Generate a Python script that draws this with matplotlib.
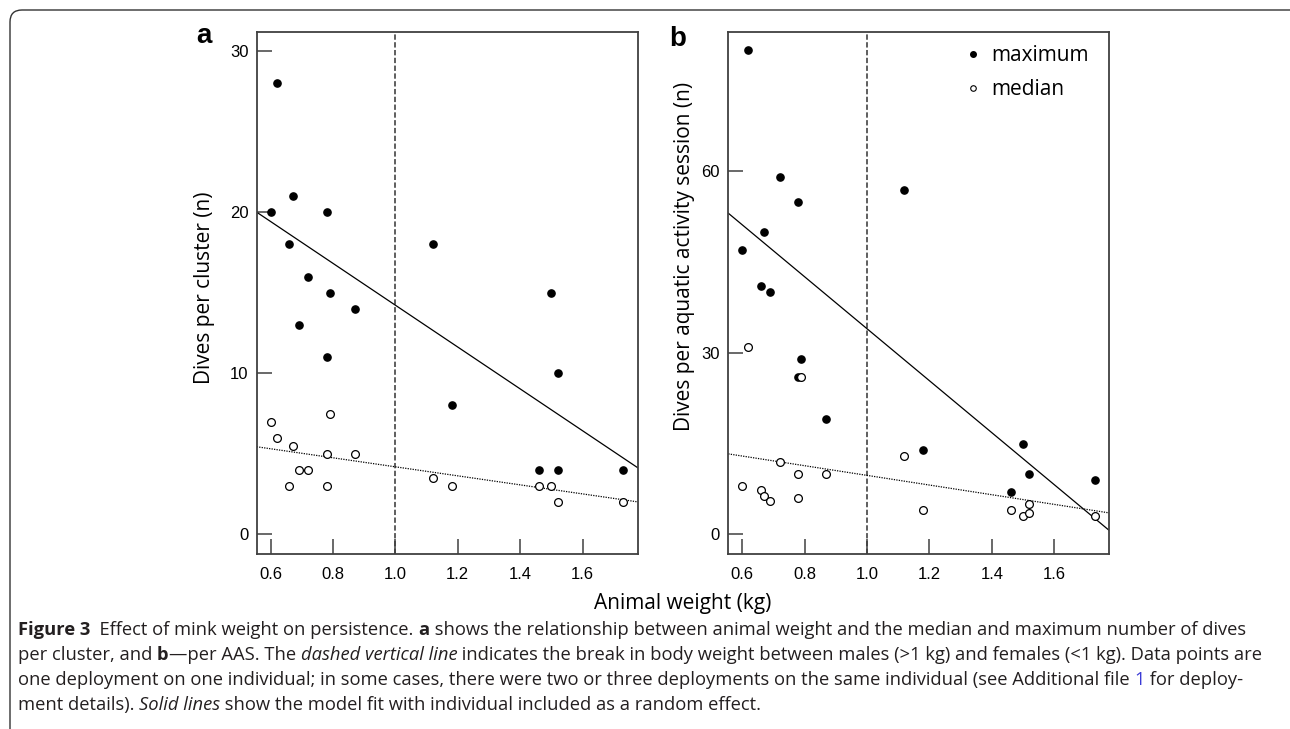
import numpy as np
import matplotlib
matplotlib.use("Agg")
import matplotlib.pyplot as plt
from matplotlib.lines import Line2D
from matplotlib.patches import FancyBboxPatch

# panel a - dives per cluster
a_max_weight = [0.60, 0.62, 0.66, 0.67, 0.69, 0.72, 0.78, 0.78, 0.79, 0.87, 1.12, 1.18, 1.46, 1.50, 1.52, 1.52, 1.73]
a_max_dives = [20, 28, 18, 21, 13, 16, 20, 11, 15, 14, 18, 8, 4, 15, 10, 4, 4]
a_med_weight = [0.60, 0.62, 0.66, 0.67, 0.69, 0.72, 0.78, 0.78, 0.79, 0.87, 1.12, 1.18, 1.46, 1.50, 1.52, 1.73]
a_med_dives = [7, 6, 3, 5.5, 4, 4, 5, 3, 7.5, 5, 3.5, 3, 3, 3, 2, 2]

# panel b - dives per aquatic activity session
b_max_weight = [0.60, 0.62, 0.66, 0.67, 0.69, 0.72, 0.78, 0.78, 0.79, 0.87, 1.12, 1.18, 1.46, 1.50, 1.52, 1.73]
b_max_dives = [47, 80, 41, 50, 40, 59, 55, 26, 29, 19, 57, 14, 7, 15, 10, 9]
b_med_weight = [0.60, 0.62, 0.66, 0.67, 0.69, 0.72, 0.78, 0.78, 0.79, 0.87, 1.12, 1.18, 1.46, 1.50, 1.52, 1.52, 1.73]
b_med_dives = [8, 31, 7.3, 6.3, 5.5, 12, 10, 6, 26, 10, 13, 4, 4, 3, 5, 3.5, 3]

# model fits (intercept, slope)
fit_a_max = (27.2, -12.98)
fit_a_med = (6.99, -2.80)
fit_b_max = (77.0, -43.0)
fit_b_med = (17.75, -8.0)

x_ticks = [0.6, 0.8, 1.0, 1.2, 1.4, 1.6]
a_yticks = [0, 10, 20, 30]
b_yticks = [0, 30, 60]

W, H = 1290, 729
fig = plt.figure(figsize=(W / 100, H / 100), dpi=100)

label_font = "Open Sans"
tick_font = "Liberation Sans"
spine_col = "#404040"

ax_a = fig.add_axes([256.7 / W, 1 - 554.3 / H, 381 / W, 522.6 / H])
ax_b = fig.add_axes([728.3 / W, 1 - 554.3 / H, 380.7 / W, 522.6 / H])


def draw_panel(ax, wmax, dmax, wmed, dmed, fmax, fmed, xlim, ylim, yticks):
    ax.set_xlim(*xlim)
    ax.set_ylim(*ylim)
    xx = np.array(xlim)
    ax.plot(xx, fmax[0] + fmax[1] * xx, color="black", lw=0.9, zorder=2)
    ax.plot(xx, fmed[0] + fmed[1] * xx, color="black", lw=0.9, ls=(0, (1, 1)), zorder=2)
    ax.axvline(1.0, color="#333333", lw=1.1, ls=(0, (3.5, 1.6)), zorder=1)
    ax.plot(wmax, dmax, "o", color="black", ms=5.2, ls="", zorder=3)
    ax.plot(wmed, dmed, "o", mfc="white", mec="black", mew=0.9, ms=5.6, ls="", zorder=4)
    ax.set_xticks(x_ticks)
    ax.set_xticklabels(["%.1f" % v for v in x_ticks])
    ax.set_yticks(yticks)
    ax.tick_params(direction="in", length=11, width=1.1, color=spine_col,
                   labelsize=12, pad=6)
    ax.tick_params(axis="x", pad=9)
    for lab in ax.get_xticklabels() + ax.get_yticklabels():
        lab.set_fontfamily(tick_font)
    for sp in ax.spines.values():
        sp.set_color(spine_col)
        sp.set_linewidth(1.3)


draw_panel(ax_a, a_max_weight, a_max_dives, a_med_weight, a_med_dives,
           fit_a_max, fit_a_med, (0.555, 1.777), (-1.24, 31.2), a_yticks)
draw_panel(ax_b, b_max_weight, b_max_dives, b_med_weight, b_med_dives,
           fit_b_max, fit_b_med, (0.556, 1.775), (-3.3, 83.1), b_yticks)

ax_a.set_ylabel("Dives per cluster (n)", fontsize=15, family=label_font, va="center")
ax_a.yaxis.set_label_coords(-0.136, 0.51)
ax_b.set_ylabel("Dives per aquatic activity session (n)", fontsize=15, family=label_font, va="center")
ax_b.yaxis.set_label_coords(-0.114, 0.57)

fig.text(683 / W, 1 - 604 / H, "Animal weight (kg)", ha="center", va="center",
         fontsize=15, family=label_font)

fig.text(203.5 / W, 1 - 43 / H, "a", ha="center", va="baseline", fontsize=20,
         fontweight="bold", family=tick_font)
fig.text(678 / W, 1 - 46 / H, "b", ha="center", va="baseline", fontsize=20,
         fontweight="bold", family=tick_font)

handles = [Line2D([], [], marker="o", ls="", color="black", ms=4),
           Line2D([], [], marker="o", ls="", mfc="white", mec="black", mew=0.8, ms=4)]
ax_b.legend(handles, ["maximum", "median"], loc="upper right", frameon=False,
            bbox_to_anchor=(0.9467, 0.9745), borderaxespad=0, borderpad=0,
            prop={"family": label_font, "size": 15}, handlelength=0.8,
            handletextpad=0.48, labelspacing=0.64)

# frame around the figure (only top-left corner visible)
frame = FancyBboxPatch((0.1, -1.0), 14.0, 8.19, boxstyle="round,pad=0,rounding_size=0.12",
                       transform=fig.dpi_scale_trans, fill=False, ec="#333333", lw=1.0)
fig.add_artist(frame)

# caption
cap_col = "#231f20"
cap_size = 13.25
styles = {
    "r": dict(color=cap_col),
    "b": dict(color=cap_col, fontweight="bold"),
    "i": dict(color=cap_col, fontstyle="italic"),
    "blue": dict(color="#3b3bd6"),
}
caption = [
    [("Figure 3", "b"), ("  Effect of mink weight on persistence. ", "r"), ("a", "b"),
     (" shows the relationship between animal weight and the median and maximum number of dives", "r")],
    [("per cluster, and ", "r"), ("b", "b"), ("\u2014per AAS. The ", "r"), ("dashed vertical line", "i"),
     (" indicates the break in body weight between males (>1 kg) and females (<1 kg). Data points are", "r")],
    [("one deployment on one individual; in some cases, there were two or three deployments on the same individual (see Additional file ", "r"),
     ("1", "blue"), (" for deploy-", "r")],
    [("ment details). ", "r"), ("Solid lines", "i"),
     (" show the model fit with individual included as a random effect.", "r")],
]
baselines = [635, 660, 685, 710]

renderer = fig.canvas.get_renderer()


def seg_width(text, st):
    t1 = fig.text(0, 0, "|" + text + "|", fontsize=cap_size, family=label_font, **st)
    t2 = fig.text(0, 0, "||", fontsize=cap_size, family=label_font, **st)
    w = t1.get_window_extent(renderer).width - t2.get_window_extent(renderer).width
    t1.remove()
    t2.remove()
    return w


for parts, yb in zip(caption, baselines):
    x = 18
    for text, key in parts:
        fig.text(x / W, 1 - yb / H, text, ha="left", va="baseline",
                 fontsize=cap_size, family=label_font, **styles[key])
        x += seg_width(text, styles[key])

fig.savefig("out.png", dpi=100)
